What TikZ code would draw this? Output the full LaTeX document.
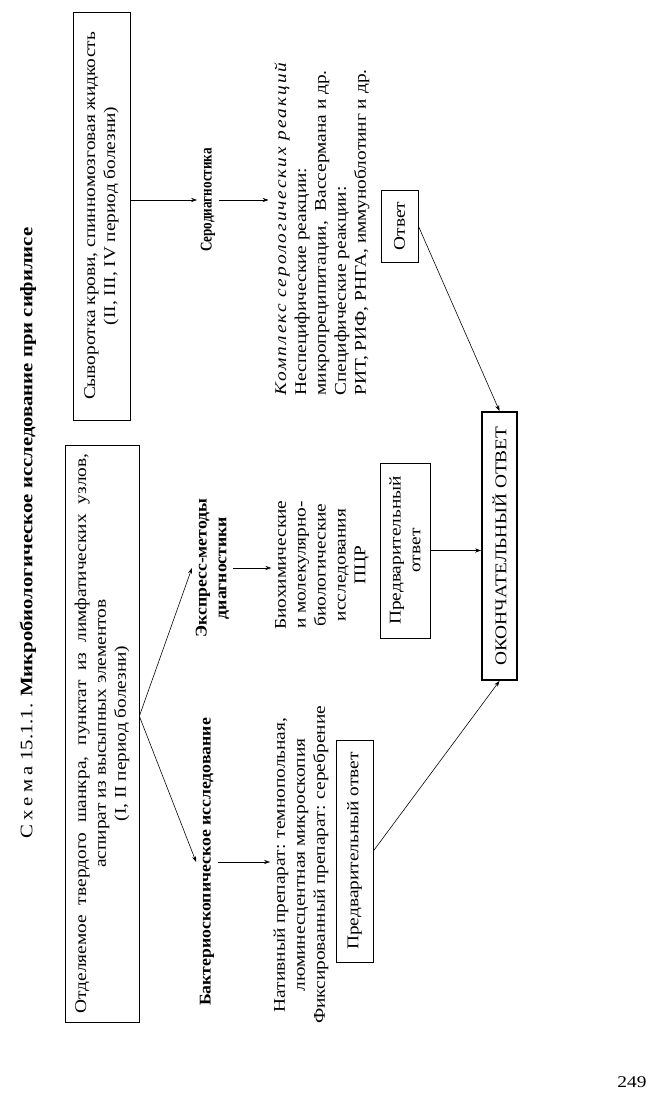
\documentclass[tikz,border=0pt]{standalone}
\usepackage{fontspec}
\setmainfont{Liberation Serif}[FakeStretch=1.18]
\usetikzlibrary{arrows.meta,positioning,calc}

\begin{document}
\begin{tikzpicture}[
      x=0.03cm,y=0.03cm,
      txt/.style={inner sep=3pt,align=center,font=\fontsize{14}{17}\selectfont},
      box/.style={draw,line width=0.6pt,inner sep=0pt,align=center,font=\fontsize{14}{17}\selectfont},
      head/.style={inner sep=3pt,align=center,font=\fontsize{14}{17}\selectfont\bfseries\addfontfeature{FakeStretch=1.08}},
      arr/.style={line width=0.5pt,-{Stealth[length=5pt,width=3.5pt]}},
    ]
    \useasboundingbox (0,0) rectangle (659,1115);
    \begin{scope}[rotate=90,transform shape]
      \node[txt,font=\fontsize{15}{18}\selectfont] (title) at (582,-28)
        {{\addfontfeature{LetterSpace=25}Схема} 15.1.1. \textbf{Микробиологическое исследование при сифилисе}};
      % sources
      \node[box,minimum width=17.31cm,minimum height=2.22cm] (otd) at (381.5,-102)
        {\makebox[16.8cm][s]{Отделяемое твердого шанкра, пунктат из лимфатических узлов,}\\
         аспират из высыпных элементов\\(I, II период болезни)};
      \node[box,minimum width=12.24cm,minimum height=1.71cm] (syv) at (899,-101.5)
        {Сыворотка крови, спинномозговая жидкость\\(II, III, IV период болезни)};
      % methods
      \node[head] (bakt) at (253,-207) {Бактериоскопическое исследование};
      \node[head] (eksp) at (547,-212.5) {Экспресс-методы\\диагностики};
      \node[head] (sero) at (915,-208) {\addfontfeature{FakeStretch=0.8}Серодиагностика};
      \node[txt] (nat) at (250,-301)
        {Нативный препарат: темнопольная,\\люминесцентная микроскопия\\Фиксированный препарат: серебрение};
      \node[txt] (pcr) at (550,-322)
        {Биохимические\\и молекулярно-\\биологические\\исследования\\ПЦР};
      \node[txt] (reak) at (886,-322)
        {\begin{tabular}{@{}l@{}}
           \multicolumn{1}{@{}c@{}}{\itshape\addfontfeature{LetterSpace=12}Комплекс серологических реакций}\\
           Неспецифические реакции:\\
           микропреципитации,\ \ Вассермана и др.\\
           Специфические реакции:\\
           РИТ, РИФ, РНГА, иммуноблотинг и др.
         \end{tabular}};
      % answers
      \node[box,minimum width=6.66cm,minimum height=1.11cm] (pr1) at (264,-354.5) {Предварительный ответ};
      \node[box,minimum width=5.25cm,minimum height=1.5cm] (pr2) at (564.5,-405) {Предварительный\\ответ};
      \node[box,minimum width=2.16cm,minimum height=1.11cm] (otv) at (889,-399.5) {Ответ};
      \node[box,line width=1.6pt,minimum width=8.04cm,minimum height=1.05cm] (ok) at (569,-499.5) {ОКОНЧАТЕЛЬНЫЙ ОТВЕТ};
      \coordinate (src) at ($(otd.south west)!0.53!(otd.south east)$);
      \draw[arr] (src) -- (bakt.north);
      \draw[arr] (src) -- (eksp.north);
      \draw[arr] (syv.south -| sero.north) -- (sero.north);
      \draw[arr] (bakt.south) -- (bakt.south |- nat.north);
      \draw[arr] (eksp.south) -- (eksp.south |- pcr.north);
      \draw[arr] (sero.south) -- (sero.south |- reak.north);
      \draw[arr] (pr1.south) -- (ok.west);
      \draw[arr] (pr2.south) -- (pr2.south |- ok.north);
      \draw[arr] (otv.south) -- (ok.east);
    \end{scope}
    \node[txt] (pg) at (632,33) {249};
  \end{tikzpicture}
\end{document}
